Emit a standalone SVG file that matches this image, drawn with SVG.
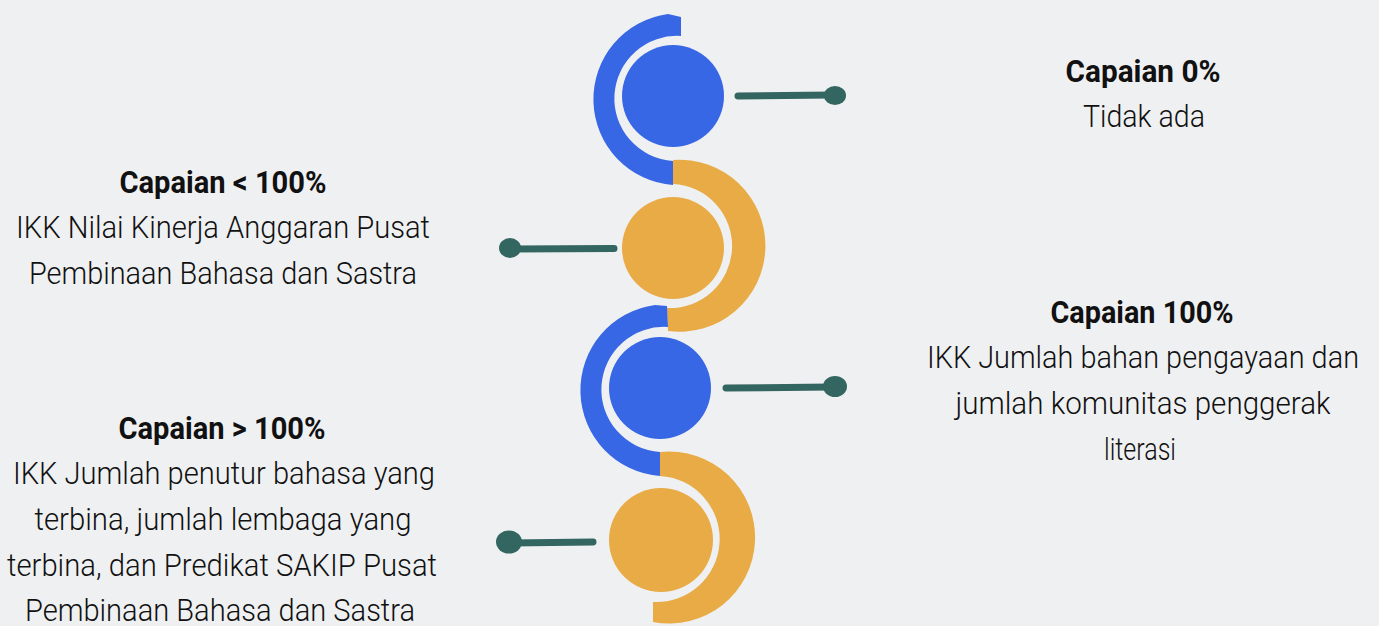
<svg xmlns="http://www.w3.org/2000/svg" width="1379" height="626" viewBox="0 0 1379 626">
  <style>
    .blue { fill: #3767E4; }
    .orange { fill: #E8AB45; }
    .link { stroke: #336660; stroke-width: 7; stroke-linecap: round; fill: none; }
    .dot { fill: #336660; }
    text { font-family: Roboto, "Liberation Sans", sans-serif; font-size: 32px; fill: #111111; text-anchor: middle; }
    .head { font-weight: 700; }
    .body { font-weight: 300; }
  </style>
  <rect width="1379" height="626" fill="#EFF0F2"/>

  <!-- S-shaped chain of rings and discs -->
  <g id="node-0">
    <path class="blue" d="M 681,17 L 681,36 A 62 62 0 1 0 673,161 L 673,185 A 86 86 0 0 1 668,14 Z"/>
    <circle class="blue" cx="673" cy="96" r="51"/>
  </g>
  <g id="node-lt100">
    <path class="orange" d="M 673,160 A 86 86 0 1 1 668,331 L 667,308 A 62 62 0 1 0 673,184 Z"/>
    <circle class="orange" cx="673" cy="248" r="51"/>
  </g>
  <g id="node-100">
    <path class="blue" d="M 667,306 L 668,327 A 62 62 0 1 0 660,452 L 660,476 A 86 86 0 0 1 655,305 Z"/>
    <circle class="blue" cx="660" cy="388" r="51"/>
  </g>
  <g id="node-gt100">
    <path class="orange" d="M 660,452 A 86 86 0 1 1 653,622 L 653,602 A 62 62 0 1 0 660,476 Z"/>
    <circle class="orange" cx="661" cy="540" r="52"/>
  </g>

  <!-- pointer lines with round end dots -->
  <g id="connectors">
    <path class="link" d="M 738,96 L 832,95"/>
    <ellipse class="dot" cx="835" cy="95.5" rx="11" ry="9.5"/>
    <path class="link" d="M 512,249 L 614,248.5"/>
    <ellipse class="dot" cx="510" cy="248" rx="11" ry="10"/>
    <path class="link" d="M 726,388 L 832,387"/>
    <ellipse class="dot" cx="835" cy="386.5" rx="12" ry="10.5"/>
    <path class="link" d="M 511,543 L 593,542"/>
    <ellipse class="dot" cx="509" cy="542" rx="13" ry="11.5"/>
  </g>

  <!-- labels -->
  <g id="label-0">
    <text class="head" x="1143" y="82" textLength="155" lengthAdjust="spacingAndGlyphs">Capaian 0%</text>
    <text class="body" x="1144" y="127" textLength="122" lengthAdjust="spacingAndGlyphs">Tidak ada</text>
  </g>
  <g id="label-lt100">
    <text class="head" x="223" y="193" textLength="207" lengthAdjust="spacingAndGlyphs">Capaian &lt; 100%</text>
    <text class="body" x="223" y="238" textLength="414" lengthAdjust="spacingAndGlyphs">IKK Nilai Kinerja Anggaran Pusat</text>
    <text class="body" x="223" y="284" textLength="388" lengthAdjust="spacingAndGlyphs">Pembinaan Bahasa dan Sastra</text>
  </g>
  <g id="label-100">
    <text class="head" x="1142" y="323" textLength="183" lengthAdjust="spacingAndGlyphs">Capaian 100%</text>
    <text class="body" x="1143" y="368" textLength="432" lengthAdjust="spacingAndGlyphs">IKK Jumlah bahan pengayaan dan</text>
    <text class="body" x="1143" y="414" textLength="375" lengthAdjust="spacingAndGlyphs">jumlah komunitas penggerak</text>
    <text class="body" x="1140" y="460" textLength="72" lengthAdjust="spacingAndGlyphs">literasi</text>
  </g>
  <g id="label-gt100">
    <text class="head" x="222" y="439" textLength="207" lengthAdjust="spacingAndGlyphs">Capaian &gt; 100%</text>
    <text class="body" x="224" y="484" textLength="422" lengthAdjust="spacingAndGlyphs">IKK Jumlah penutur bahasa yang</text>
    <text class="body" x="223" y="530" textLength="377" lengthAdjust="spacingAndGlyphs">terbina, jumlah lembaga yang</text>
    <text class="body" x="222" y="576" textLength="430" lengthAdjust="spacingAndGlyphs">terbina, dan Predikat SAKIP Pusat</text>
    <text class="body" x="220" y="621" textLength="390" lengthAdjust="spacingAndGlyphs">Pembinaan Bahasa dan Sastra</text>
  </g>
</svg>
